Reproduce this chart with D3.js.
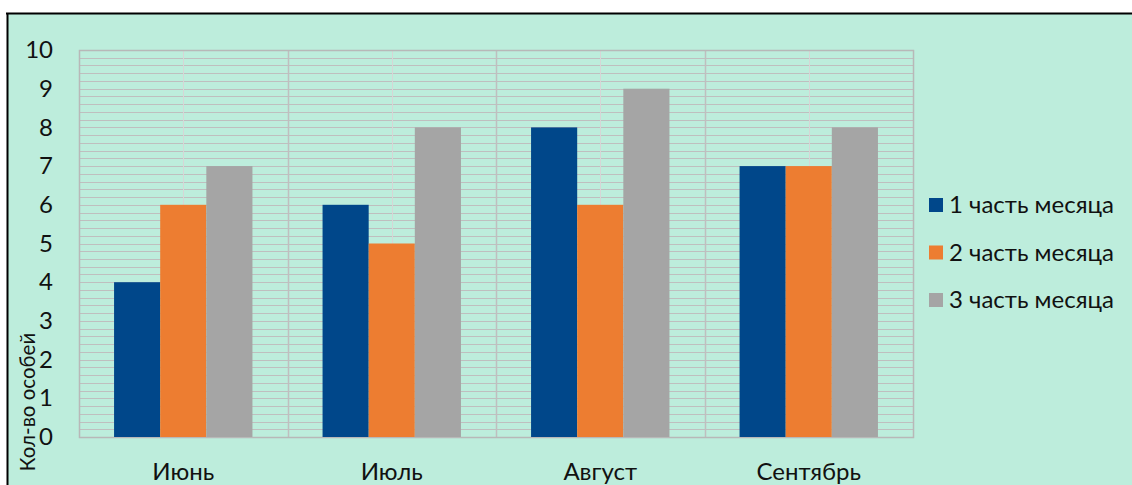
<!DOCTYPE html>
<html><head><meta charset="utf-8">
<script src="https://cdn.jsdelivr.net/npm/d3@7"></script>
<style>
html,body{margin:0;padding:0;background:#fff;}
svg{display:block;}
text{font-family:Lato, sans-serif;fill:#111;}
</style></head>
<body>
<svg id="chart" width="1132" height="485"></svg>
<script>
const categories = ["Июнь", "Июль", "Август", "Сентябрь"];
const seriesNames = ["1 часть месяца", "2 часть месяца", "3 часть месяца"];
const series1 = [4, 6, 8, 7];
const series2 = [6, 5, 6, 7];
const series3 = [7, 8, 9, 8];
const yTicks = [0, 1, 2, 3, 4, 5, 6, 7, 8, 9, 10];
const yTitle = "Кол-во особей";
const colors = ["#00478A", "#ED7D31", "#A5A5A5"];

const FONT = "Lato, sans-serif";
const FS = 24;
const svg = d3.select("#chart");
const W = 1132, H = 485;
const plot = {left: 79, right: 913, top: 50, bottom: 437};

// chart background
svg.append("rect").attr("x", 7).attr("y", 13).attr("width", W).attr("height", H)
  .attr("fill", "#BDEDDC");
svg.append("line").attr("x1", 6).attr("x2", W).attr("y1", 13.5).attr("y2", 13.5)
  .attr("stroke", "#000").attr("stroke-width", 2);
svg.append("line").attr("x1", 7.5).attr("x2", 7.5).attr("y1", 13).attr("y2", H)
  .attr("stroke", "#000").attr("stroke-width", 2);

const x0 = d3.scaleBand().domain(categories).range([plot.left, plot.right]).paddingInner(0).paddingOuter(0);
const x1 = d3.scaleBand().domain([0, 1, 2]).range([0, x0.bandwidth()]).paddingOuter(0.76).paddingInner(0);
const y = d3.scaleLinear().domain([0, 10]).range([plot.bottom, plot.top]);

// minor horizontal gridlines
const minor = d3.range(0, 10.001, 0.2);
svg.append("g").selectAll("line").data(minor).join("line")
  .attr("x1", plot.left).attr("x2", plot.right)
  .attr("y1", d => Math.round(y(d)) + 0.5).attr("y2", d => Math.round(y(d)) + 0.5)
  .attr("stroke", "#BFBFBF").attr("stroke-width", 1);

// vertical gridlines: category centers (light) and boundaries
svg.append("g").selectAll("line").data(categories).join("line")
  .attr("x1", d => Math.round(x0(d) + x0.bandwidth() / 2) + 0.5)
  .attr("x2", d => Math.round(x0(d) + x0.bandwidth() / 2) + 0.5)
  .attr("y1", plot.top).attr("y2", plot.bottom)
  .attr("stroke", "#D6D6D6").attr("stroke-width", 1);
svg.append("g").selectAll("line").data(categories.slice(1)).join("line")
  .attr("x1", d => Math.round(x0(d)) + 0.5).attr("x2", d => Math.round(x0(d)) + 0.5)
  .attr("y1", plot.top).attr("y2", plot.bottom)
  .attr("stroke", "#BFBFBF").attr("stroke-width", 1.5);

// plot border
svg.append("rect").attr("x", plot.left + 0.5).attr("y", plot.top + 0.5)
  .attr("width", plot.right - plot.left).attr("height", plot.bottom - plot.top)
  .attr("fill", "none").attr("stroke", "#B8B8B8").attr("stroke-width", 1.5);

// bars
const data = categories.map((c, i) => ({c, vals: [series1[i], series2[i], series3[i]]}));
const g = svg.append("g").selectAll("g").data(data).join("g")
  .attr("transform", d => `translate(${x0(d.c)},0)`);
g.selectAll("rect").data(d => d.vals.map((v, k) => ({v, k}))).join("rect")
  .attr("x", d => x1(d.k)).attr("width", x1.bandwidth())
  .attr("y", d => y(d.v)).attr("height", d => y(0) - y(d.v))
  .attr("fill", d => colors[d.k]);

// y axis labels
const yAxis = d3.axisLeft(y).tickValues(yTicks).tickSize(0).tickPadding(0).tickFormat(d3.format("d"));
const ya = svg.append("g").attr("transform", `translate(53,0)`).call(yAxis);
ya.select(".domain").remove();
ya.selectAll("text").attr("font-size", FS).attr("font-family", FONT).attr("fill", "#111");

// x axis labels
const xAxis = d3.axisBottom(x0).tickSize(0).tickPadding(0);
const xa = svg.append("g").attr("transform", `translate(0,${plot.bottom})`).call(xAxis);
xa.select(".domain").remove();
xa.selectAll("text").attr("font-size", FS).attr("font-family", FONT).attr("fill", "#111")
  .attr("dy", 0).attr("y", 43);

// y title
svg.append("text").attr("transform", "translate(35,402) rotate(-90)")
  .attr("text-anchor", "middle").attr("font-size", 20.5).text(yTitle);

// legend
const leg = svg.append("g").selectAll("g").data(seriesNames).join("g")
  .attr("transform", (d, i) => `translate(929,${198 + i * 47.5})`);
leg.append("rect").attr("width", 14).attr("height", 14).attr("fill", (d, i) => colors[i]);
leg.append("text").attr("x", 20).attr("y", 15).attr("font-size", FS).text(d => d);
</script>
</body></html>
